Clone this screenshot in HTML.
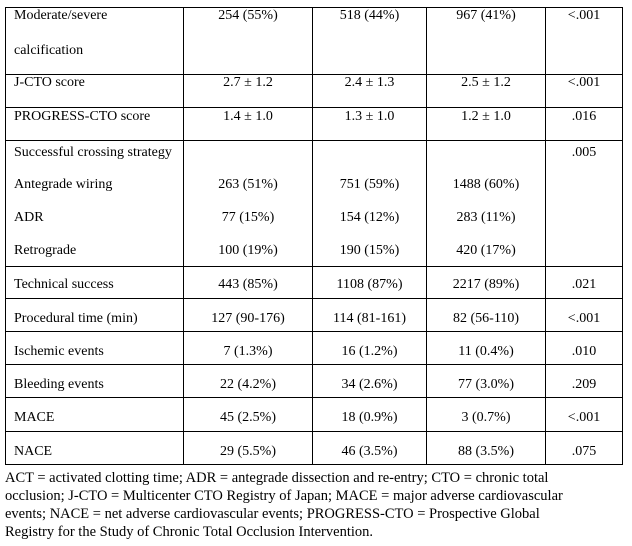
<!DOCTYPE html>
<html>
<head>
<meta charset="utf-8">
<style>
  html, body { margin:0; padding:0; background:#fff; }
  body { width:632px; height:546px; position:relative; overflow:hidden;
         font-family:"Liberation Serif","Times New Roman",serif; font-size:14px; color:#000; }
  .h { position:absolute; left:5px; width:618px; height:1px; background:#000; }
  .v { position:absolute; top:7px; height:458px; width:1px; background:#000; }
  .t { position:absolute; line-height:16px; white-space:nowrap; }
  .c2 { left:184px; width:128px; text-align:center; }
  .c3 { left:313px; width:113px; text-align:center; }
  .c4 { left:427px; width:118px; text-align:center; }
  .c5 { left:546px; width:76px; text-align:center; }
  .l { left:14px; }
  .f { position:absolute; left:5px; line-height:16px; white-space:nowrap; font-size:14.5px; }
</style>
</head>
<body>
<!-- horizontal lines -->
<div class="h" style="top:7px"></div>
<div class="h" style="top:74px"></div>
<div class="h" style="top:107px"></div>
<div class="h" style="top:140px"></div>
<div class="h" style="top:266px"></div>
<div class="h" style="top:298px"></div>
<div class="h" style="top:331px"></div>
<div class="h" style="top:364px"></div>
<div class="h" style="top:397px"></div>
<div class="h" style="top:431px"></div>
<div class="h" style="top:464px"></div>
<!-- vertical lines -->
<div class="v" style="left:5px"></div>
<div class="v" style="left:183px"></div>
<div class="v" style="left:312px"></div>
<div class="v" style="left:426px"></div>
<div class="v" style="left:545px"></div>
<div class="v" style="left:622px"></div>

<!-- Row 1 -->
<div class="t l" style="top:8px">Moderate/severe</div>
<div class="t l" style="top:43px">calcification</div>
<div class="t c2" style="top:8px">254 (55%)</div>
<div class="t c3" style="top:8px">518 (44%)</div>
<div class="t c4" style="top:8px">967 (41%)</div>
<div class="t c5" style="top:8px">&lt;.001</div>

<!-- J-CTO -->
<div class="t l" style="top:75px">J-CTO score</div>
<div class="t c2" style="top:75px">2.7 ± 1.2</div>
<div class="t c3" style="top:75px">2.4 ± 1.3</div>
<div class="t c4" style="top:75px">2.5 ± 1.2</div>
<div class="t c5" style="top:75px">&lt;.001</div>

<!-- PROGRESS -->
<div class="t l" style="top:109px">PROGRESS-CTO score</div>
<div class="t c2" style="top:109px">1.4 ± 1.0</div>
<div class="t c3" style="top:109px">1.3 ± 1.0</div>
<div class="t c4" style="top:109px">1.2 ± 1.0</div>
<div class="t c5" style="top:109px">.016</div>

<!-- Crossing strategy -->
<div class="t l" style="top:145px">Successful crossing strategy</div>
<div class="t c5" style="top:145px">.005</div>
<div class="t l" style="top:177px">Antegrade wiring</div>
<div class="t c2" style="top:177px">263 (51%)</div>
<div class="t c3" style="top:177px">751 (59%)</div>
<div class="t c4" style="top:177px">1488 (60%)</div>
<div class="t l" style="top:210px">ADR</div>
<div class="t c2" style="top:210px">77 (15%)</div>
<div class="t c3" style="top:210px">154 (12%)</div>
<div class="t c4" style="top:210px">283 (11%)</div>
<div class="t l" style="top:243px">Retrograde</div>
<div class="t c2" style="top:243px">100 (19%)</div>
<div class="t c3" style="top:243px">190 (15%)</div>
<div class="t c4" style="top:243px">420 (17%)</div>

<!-- Technical success -->
<div class="t l" style="top:277px">Technical success</div>
<div class="t c2" style="top:277px">443 (85%)</div>
<div class="t c3" style="top:277px">1108 (87%)</div>
<div class="t c4" style="top:277px">2217 (89%)</div>
<div class="t c5" style="top:277px">.021</div>

<!-- Procedural time -->
<div class="t l" style="top:311px">Procedural time (min)</div>
<div class="t c2" style="top:311px">127 (90-176)</div>
<div class="t c3" style="top:311px">114 (81-161)</div>
<div class="t c4" style="top:311px">82 (56-110)</div>
<div class="t c5" style="top:311px">&lt;.001</div>

<!-- Ischemic -->
<div class="t l" style="top:344px">Ischemic events</div>
<div class="t c2" style="top:344px">7 (1.3%)</div>
<div class="t c3" style="top:344px">16 (1.2%)</div>
<div class="t c4" style="top:344px">11 (0.4%)</div>
<div class="t c5" style="top:344px">.010</div>

<!-- Bleeding -->
<div class="t l" style="top:377px">Bleeding events</div>
<div class="t c2" style="top:377px">22 (4.2%)</div>
<div class="t c3" style="top:377px">34 (2.6%)</div>
<div class="t c4" style="top:377px">77 (3.0%)</div>
<div class="t c5" style="top:377px">.209</div>

<!-- MACE -->
<div class="t l" style="top:410px">MACE</div>
<div class="t c2" style="top:410px">45 (2.5%)</div>
<div class="t c3" style="top:410px">18 (0.9%)</div>
<div class="t c4" style="top:410px">3 (0.7%)</div>
<div class="t c5" style="top:410px">&lt;.001</div>

<!-- NACE -->
<div class="t l" style="top:444px">NACE</div>
<div class="t c2" style="top:444px">29 (5.5%)</div>
<div class="t c3" style="top:444px">46 (3.5%)</div>
<div class="t c4" style="top:444px">88 (3.5%)</div>
<div class="t c5" style="top:444px">.075</div>

<!-- Footnote -->
<div class="f" style="top:470px">ACT = activated clotting time; ADR = antegrade dissection and re-entry; CTO = chronic total</div>
<div class="f" style="top:488px">occlusion; J-CTO = Multicenter CTO Registry of Japan; MACE = major adverse cardiovascular</div>
<div class="f" style="top:506px">events; NACE = net adverse cardiovascular events; PROGRESS-CTO = Prospective Global</div>
<div class="f" style="top:524px">Registry for the Study of Chronic Total Occlusion Intervention.</div>
</body>
</html>
